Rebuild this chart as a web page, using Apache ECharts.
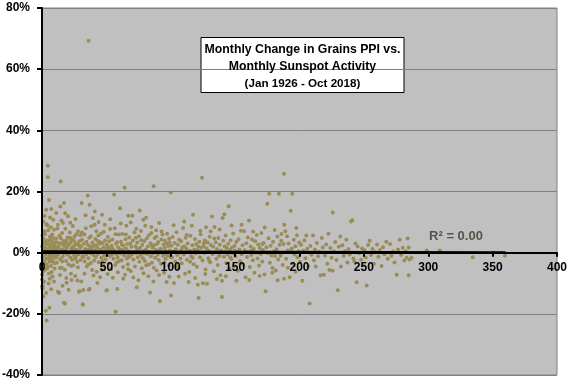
<!DOCTYPE html>
<html>
<head>
<meta charset="utf-8">
<script src="https://cdn.jsdelivr.net/npm/echarts@6/dist/echarts.min.js"></script>
<style>html,body{margin:0;padding:0;background:#fff;}#c{width:576px;height:384px;}</style>
</head>
<body>
<div id="c"></div>
<script>
// [monthly sunspot number, monthly change in grains PPI (%)]
const pointsLow0 = [[0.3,2.1],[0.5,-1.4],[0.8,10.2],[0.2,-7.2],[0.0,-8.8],[0.1,-11.0],[0.4,-11.8],[1.0,-14.3],[0.6,-11.0],[1.2,4.5],[1.5,0.8],[1.8,-2.6],[2.1,3.3],[2.4,6.1],[2.6,-0.5],[2.9,-19.0],[3.1,1.2],[3.3,14.0],[3.3,9.4],[3.4,-3.8],[3.6,-22.2],[3.8,2.7],[4.0,-5.1],[4.2,0.4],[4.5,28.4],[4.5,24.7],[4.7,-1.9],[4.9,7.3],[5.1,3.9],[5.4,17.2],[5.6,-0.9],[5.7,-18.0],[5.9,1.6],[6.0,-8.5],[6.2,5.2],[6.4,-2.2],[6.6,0.1],[6.8,8.3],[7.0,-4.4],[7.2,14.3],[7.3,2.5],[7.5,-6.3],[7.7,3.6],[7.9,-0.3],[8.1,1.9],[8.3,-2.9],[8.5,4.8],[8.7,10.8],[8.9,-1.1],[9.1,2.2],[9.3,-9.4],[9.3,7.5],[9.5,0.6],[9.7,-3.5],[9.9,3.1],[0.7,0.9],[1.3,-3.1],[1.6,2.8],[2.2,-0.8],[2.7,1.5],[3.0,-2.0],[3.9,4.0],[4.4,-4.6],[5.0,0.2],[5.3,-6.8],[6.1,2.4],[6.9,-1.5],[7.4,0.7],[8.0,5.9],[8.8,-0.6],[9.6,1.3],[0.9,3.7],[1.9,6.9],[2.5,-5.5],[3.5,1.0],[4.6,2.9],[5.8,-3.0],[6.7,4.3],[7.8,-2.4],[8.6,0.3],[9.8,-5.2],[1.1,-6.0],[2.0,12.0],[4.1,9.0],[6.3,11.5],[8.2,-7.8],[5.2,-10.1],[3.2,-13.2],[0.4,5.6],[1.7,-9.5],[7.1,-12.0]];
const pointsLow1 = [[10.2,2.0],[10.5,-1.7],[10.9,4.6],[11.2,0.5],[11.5,-3.3],[11.9,7.9],[12.2,1.4],[12.4,9.1],[12.4,-12.8],[12.7,-0.4],[13.0,3.2],[13.0,-13.0],[13.4,-13.2],[13.6,5.5],[13.9,-2.1],[14.2,15.1],[14.5,23.3],[14.8,0.8],[15.0,2.9],[15.3,-4.9],[15.6,6.4],[15.9,1.1],[16.1,-1.3],[16.3,9.7],[16.6,3.8],[16.9,-0.2],[17.1,16.2],[17.1,-16.4],[17.4,2.3],[17.7,-5.6],[17.9,-16.7],[18.1,7.8],[18.4,0.9],[18.7,-2.7],[19.0,4.1],[19.3,1.7],[19.6,-0.7],[19.9,5.0],[20.2,11.9],[20.5,-3.9],[20.7,-12.1],[21.0,2.6],[21.3,0.0],[21.6,6.6],[21.9,-1.6],[22.2,3.4],[22.5,-6.9],[22.8,1.3],[23.1,4.4],[23.4,-2.3],[23.7,0.6],[24.0,8.7],[24.3,-4.1],[24.6,2.1],[24.9,-0.9],[25.2,5.3],[25.5,1.0],[25.8,-7.6],[26.1,3.0],[26.4,-1.0],[26.7,6.0],[27.0,0.4],[27.3,-3.0],[27.6,2.7],[28.0,7.0],[28.3,-0.5],[28.7,-12.8],[29.0,3.7],[29.3,-12.6],[29.6,1.5],[29.9,-2.4],[10.7,3.5],[11.7,-0.9],[12.9,1.9],[13.8,-5.0],[14.6,4.7],[15.7,-2.8],[16.8,0.3],[17.8,3.1],[18.9,-8.3],[19.8,2.8],[20.9,-0.3],[21.8,4.9],[22.7,-4.4],[23.8,1.8],[24.8,3.9],[25.9,-1.9],[26.8,0.9],[27.9,-4.8],[28.8,2.4],[29.8,5.7],[11.0,13.0],[15.1,10.5],[19.1,-9.8],[23.0,-8.9],[26.0,11.0],[14.0,-7.3],[18.0,12.9],[22.0,9.8],[27.5,-9.1],[16.0,-10.8]];
const pointsLow2 = [[30.2,1.9],[30.5,-9.4],[30.8,16.2],[31.1,4.2],[31.4,-1.2],[31.6,-16.9],[31.8,-17.0],[32.1,-12.2],[32.3,2.8],[32.6,0.3],[32.9,5.9],[33.2,-2.9],[33.5,1.2],[33.9,12.2],[34.2,-0.6],[34.5,3.6],[34.8,-4.5],[35.1,0.9],[35.5,18.7],[35.7,2.5],[36.0,-1.8],[36.2,69.3],[36.3,-12.1],[36.6,4.9],[37.0,15.7],[37.0,-11.8],[37.3,-0.1],[37.6,2.0],[37.9,-3.4],[38.3,8.6],[38.6,1.4],[38.9,-5.7],[39.2,3.3],[39.6,11.3],[39.9,-0.8],[40.2,2.2],[40.5,-2.6],[40.9,9.1],[41.2,0.7],[41.5,4.5],[41.8,-1.4],[42.2,7.0],[42.5,-6.2],[42.8,1.6],[43.1,3.9],[43.5,-0.4],[43.8,5.6],[44.1,-3.1],[44.4,0.2],[44.8,2.9],[45.1,-8.0],[45.4,1.0],[45.8,6.3],[46.1,-1.7],[46.6,12.4],[46.9,0.5],[47.2,3.2],[47.6,-4.2],[47.9,1.8],[48.3,-0.9],[48.7,9.1],[49.0,4.0],[49.3,-2.2],[49.7,0.8],[50.0,-12.4],[50.3,2.6],[50.5,-12.3],[50.8,-0.2],[51.2,5.1],[51.5,1.3],[51.9,-3.6],[52.2,3.7],[52.6,-1.1],[52.9,7.7],[53.3,0.4],[53.6,-5.3],[54.0,2.3],[54.4,-0.7],[54.7,4.3],[55.1,1.1],[55.5,-2.0],[56.0,19.0],[56.2,0.6],[56.5,8.0],[56.9,-4.0],[57.2,-19.3],[57.5,2.9],[57.9,-0.5],[58.3,3.4],[58.5,-11.9],[58.8,-1.6],[59.2,1.7],[59.6,5.9],[59.9,-2.8],[31.0,6.6],[33.0,-6.9],[34.0,8.0],[35.9,-3.9],[38.0,5.4],[40.0,-7.5],[41.0,13.5],[43.0,-9.9],[44.0,10.0],[46.3,-5.6],[48.0,6.8],[51.0,-7.0],[53.0,10.9],[55.0,-8.2],[57.0,6.0],[59.0,-6.4],[32.0,-1.5],[36.8,1.1],[39.0,0.0],[42.0,2.5],[45.0,3.5],[47.0,-2.7],[50.9,2.0],[54.2,1.5],[58.0,-3.2]];
const pointsMid = [[60.2,1.2],[60.6,14.5],[61.0,-0.3],[61.4,3.6],[61.8,-2.5],[62.2,6.1],[62.6,0.9],[63.0,-4.7],[63.4,2.3],[63.8,-0.9],[64.2,21.2],[64.5,-7.2],[64.9,4.4],[65.3,1.4],[65.5,8.8],[65.9,-1.9],[66.3,2.8],[66.7,-3.8],[67.0,12.1],[67.4,0.5],[67.8,5.0],[68.2,-1.3],[68.6,3.0],[69.0,-6.0],[69.4,1.9],[69.8,-0.6],[70.2,12.1],[70.6,4.0],[71.0,-2.2],[71.4,0.2],[71.8,6.7],[72.2,-4.5],[72.6,2.1],[73.0,-0.1],[73.3,7.8],[73.6,-11.3],[74.0,3.3],[74.4,-1.5],[74.8,0.8],[75.2,5.4],[75.6,-3.0],[75.9,13.8],[76.3,1.6],[76.7,-0.8],[77.1,4.1],[77.5,-5.1],[77.9,2.6],[78.3,-1.8],[78.7,10.8],[79.1,0.6],[79.5,3.8],[79.9,-2.7],[80.2,8.8],[80.6,1.0],[81.0,-4.1],[81.4,4.7],[81.8,-0.4],[82.2,2.0],[82.6,-7.7],[83.0,5.7],[83.4,0.3],[83.9,-13.0],[84.2,3.1],[84.6,-1.2],[85.0,6.4],[85.4,-3.3],[85.8,1.7],[86.2,-0.2],[86.5,-9.4],[86.7,21.7],[87.1,2.4],[87.5,4.8],[87.9,-1.7],[88.3,0.9],[88.7,7.3],[89.1,-5.8],[89.5,2.9],[89.9,-0.7],[90.3,3.5],[90.7,-2.4],[91.0,9.7],[91.6,-15.9],[92.0,1.3],[92.4,-3.6],[92.8,4.3],[93.2,0.1],[93.6,5.9],[94.0,-1.0],[94.4,2.7],[94.8,-6.6],[95.2,1.5],[95.6,3.9],[96.0,-2.0],[96.4,0.4],[96.8,-9.6],[97.2,6.2],[97.6,-0.9],[98.0,2.2],[98.4,-4.3],[98.8,4.6],[99.2,0.7],[99.6,-1.4],[100.0,19.7],[100.2,-14.0],[61.2,9.5],[63.1,-8.5],[65.1,5.9],[66.9,-5.4],[68.9,9.9],[70.9,-8.1],[72.9,4.9],[74.9,-9.0],[76.9,7.1],[78.9,-6.7],[80.9,11.4],[82.9,-3.9],[84.9,8.4],[86.9,-4.9],[88.9,5.2],[90.9,-7.3],[92.9,6.9],[94.9,-3.2],[96.9,3.0],[98.9,-7.9],[62.0,2.7],[67.2,-1.0],[73.8,1.2],[79.3,-0.2],[85.2,2.5],[90.0,0.5],[95.9,-0.5],[99.0,3.4]];
const pointsHigh1 = [[100.6,2.3],[101.0,-1.6],[101.5,5.1],[102.0,0.4],[102.5,-9.9],[103.0,3.2],[103.5,-2.9],[104.0,1.1],[104.5,6.7],[105.0,-0.8],[105.5,2.6],[106.0,-5.0],[106.5,4.2],[107.0,0.0],[107.5,-1.9],[108.0,3.7],[108.5,-3.5],[109.0,1.8],[109.6,8.1],[110.1,-0.6],[110.6,2.0],[111.1,-6.9],[111.6,4.9],[112.1,1.3],[112.6,-2.3],[113.1,3.0],[113.9,-9.6],[114.4,-6.3],[114.8,0.6],[115.3,5.5],[115.8,-1.1],[116.3,8.8],[116.8,2.4],[117.3,12.4],[117.8,-3.8],[118.3,1.0],[118.8,4.5],[119.3,-0.3],[119.8,2.8],[120.3,-4.6],[120.8,0.8],[121.0,-10.5],[121.7,-14.8],[122.2,3.6],[122.7,-1.5],[123.2,6.0],[123.7,1.6],[124.3,24.5],[124.7,-2.6],[125.0,-10.0],[125.5,2.1],[126.0,-0.1],[126.5,4.0],[127.0,-5.5],[127.4,8.3],[127.9,1.4],[128.2,-10.2],[128.7,3.3],[129.2,-1.8],[129.7,0.5],[130.2,5.2],[130.7,-3.1],[131.2,2.5],[132.0,11.8],[132.5,-0.4],[133.0,1.9],[133.5,-6.1],[134.0,8.4],[134.5,0.2],[135.0,3.4],[135.5,-2.0],[136.0,1.2],[136.5,-4.0],[137.0,4.8],[137.6,-0.9],[138.1,2.6],[138.6,-7.4],[139.1,0.7],[139.8,-9.2],[139.8,-14.5],[140.3,11.3],[140.8,3.9],[141.3,-1.3],[141.6,12.6],[142.1,0.3],[142.6,5.6],[143.1,-3.4],[143.6,1.5],[144.1,-0.6],[144.6,2.9],[145.0,15.2],[145.5,-5.2],[146.0,0.9],[146.5,4.1],[147.0,-2.1],[147.5,1.7],[148.0,-0.2],[148.5,6.3],[149.0,-4.4],[149.5,2.2],[102.2,9.0],[106.2,-7.8],[110.4,10.2],[115.0,-3.0],[119.0,-8.3],[123.0,7.2],[126.8,-7.0],[131.0,6.9],[135.8,-8.6],[138.0,7.6],[142.8,-7.7],[147.2,8.9],[104.2,-4.3],[108.2,0.9],[112.4,5.8],[117.0,-1.7],[121.4,1.9],[125.8,3.1],[129.9,-2.7],[133.8,4.6],[137.9,-1.0],[141.9,2.0],[146.2,-1.6],[149.8,0.6]];
const pointsHigh2 = [[150.3,-1.2],[150.9,3.5],[151.5,0.1],[152.1,-5.9],[152.7,4.4],[153.3,1.0],[153.9,-2.7],[154.5,7.2],[155.1,-0.5],[155.7,2.4],[156.3,-3.9],[157.0,7.0],[157.5,0.8],[158.1,-8.0],[158.7,3.1],[159.3,-1.4],[159.9,5.0],[160.5,0.3],[160.8,10.5],[161.4,-4.7],[162.0,2.0],[162.6,-0.8],[163.2,4.3],[163.8,-2.5],[164.4,1.2],[165.0,-6.6],[165.6,3.7],[166.2,0.0],[166.8,5.8],[167.4,-1.9],[168.0,2.7],[168.6,-4.2],[169.2,1.5],[169.8,-0.4],[170.4,6.4],[171.0,-2.9],[171.6,0.9],[172.2,3.2],[172.8,-7.1],[173.7,-12.6],[174.3,1.8],[175.0,16.0],[175.3,-0.2],[176.0,4.7],[176.5,19.3],[177.0,-3.3],[177.6,2.3],[178.2,-0.9],[178.9,-6.6],[179.5,3.6],[180.1,0.4],[180.7,7.4],[181.5,-5.8],[182.1,1.1],[182.8,5.3],[183.4,-2.2],[184.0,19.3],[184.6,2.6],[185.2,-1.0],[185.8,3.9],[186.4,0.0],[187.0,-4.0],[187.6,2.8],[188.0,25.8],[188.0,-8.5],[188.2,9.1],[189.0,7.0],[189.6,-2.0],[190.3,5.4],[190.9,0.7],[191.5,3.0],[192.4,-8.0],[193.2,13.7],[194.0,1.4],[194.4,19.3],[195.0,-3.6],[195.6,4.2],[196.2,-0.6],[196.8,2.1],[197.5,8.1],[198.0,5.7],[198.6,-1.5],[199.2,0.5],[199.8,3.3],[151.0,-9.2],[155.0,9.1],[161.0,-8.9],[164.0,6.9],[169.0,-7.6],[173.0,8.2],[179.0,-5.0],[183.0,-9.0],[186.0,6.1],[191.0,-4.9],[197.0,-6.2],[154.0,-3.4],[162.8,0.6],[171.2,2.8],[181.0,-1.1],[193.8,0.2]];
const pointsHigh3 = [[200.4,-3.0],[201.2,2.6],[202.2,-9.2],[203.0,0.6],[203.8,4.0],[204.6,-1.8],[205.3,5.6],[206.0,1.3],[206.8,-4.4],[207.9,-16.6],[208.5,2.2],[209.3,-0.7],[210.5,5.6],[211.2,-2.5],[212.0,1.0],[212.6,-4.5],[213.5,3.2],[214.4,-1.2],[215.3,0.3],[216.4,-7.4],[217.3,4.8],[218.0,1.7],[219.0,-7.2],[219.8,-0.9],[220.7,2.7],[221.6,-3.6],[222.5,6.2],[223.2,-5.7],[224.0,1.5],[224.9,-1.7],[225.8,13.1],[225.8,-5.9],[226.8,0.4],[227.8,3.5],[228.7,-2.4],[229.7,-12.3],[230.5,1.9],[231.7,5.3],[232.2,-4.5],[233.3,2.4],[234.3,-1.0],[235.3,0.5],[236.4,4.2],[237.2,-3.2],[238.1,1.2],[239.0,-0.6],[240.0,10.2],[241.0,10.6],[241.9,-1.9],[242.6,-2.8],[243.5,3.0],[244.4,-9.7],[245.2,2.0],[246.2,-0.2],[247.8,-2.3],[248.6,1.4],[249.5,-4.0]];
const pointsTop = [[250.5,0.8],[251.4,-1.6],[252.2,-10.7],[253.3,2.5],[254.5,3.9],[255.6,-0.8],[256.7,1.2],[257.8,-3.6],[259.0,0.2],[260.2,2.7],[261.3,-1.3],[262.5,0.9],[263.7,-4.4],[264.8,1.8],[266.0,-0.5],[267.4,3.6],[268.5,-2.0],[270.3,2.8],[271.4,-1.0],[272.6,0.4],[273.8,-3.2],[275.5,-7.2],[276.5,1.0],[277.8,4.2],[279.0,-0.8],[280.2,1.6],[281.4,-2.6],[282.5,0.5],[283.2,-1.7],[284.0,4.6],[284.8,-7.4],[284.8,1.7],[285.5,-2.2],[287.0,-1.7],[298.8,0.7],[308.6,0.2],[309.0,0.7],[334.5,-1.5],[350.5,0.0],[359.6,-1.0]];
const trendLine = [[0,0.5],[360,0.1]];
const xTicks = [0,50,100,150,200,250,300,350,400];
const yTicks = [-40,-20,0,20,40,60,80];
const titleLines = ['Monthly Change in Grains PPI vs.','Monthly Sunspot Activity','(Jan 1926 - Oct 2018)'];
const r2Label = 'R² = 0.00';

const allPoints = [].concat(pointsLow0, pointsLow1, pointsLow2, pointsMid, pointsHigh1, pointsHigh2, pointsHigh3, pointsTop);

const fam = "'Liberation Sans Narrow', 'Liberation Sans', Arial, sans-serif";
const cv = document.createElement('canvas').getContext('2d');
function fitSize(text, target, base) {
  cv.font = 'bold ' + base + 'px ' + fam;
  const w = cv.measureText(text).width;
  return Math.max(8, Math.min(base * target / w, 16));
}
const s1 = fitSize(titleLines[0], 196, 15);
const s2 = Math.min(s1, fitSize(titleLines[1], 160, 15));
const s3 = fitSize(titleLines[2], 116, 12);

// layout of the plot area
const W = 576, H = 384;
const gLeft = 42, gRight = 19, gTop = 8, gBottom = 9;
const yMin = yTicks[0], yMax = yTicks[yTicks.length - 1];
const plotH = H - gTop - gBottom;
// x axis drawn at value 0 of the y axis
const zeroFromBottom = plotH * (0 - yMin) / (yMax - yMin);

const chart = echarts.init(document.getElementById('c'), null, {renderer: 'canvas'});
const boxX = 201, boxY = 37.5, boxW = 203, boxH = 55;
chart.setOption({
  animation: false,
  grid: {left: gLeft, right: gRight, top: gTop, bottom: gBottom, outerBoundsMode: 'none', containLabel: false, show: true, backgroundColor: '#c0c0c0', borderColor: '#808080', borderWidth: 1},
  xAxis: {
    type: 'value', min: xTicks[0], max: xTicks[xTicks.length - 1], interval: 50,
    position: 'bottom', offset: -zeroFromBottom, z: 10,
    axisLine: {onZero: false, lineStyle: {color: '#000', width: 2}},
    axisTick: {show: true, length: 4, lineStyle: {color: '#000', width: 2}},
    axisLabel: {color: '#000', fontSize: 12, fontWeight: 'bold', fontFamily: 'Liberation Sans, Arial, sans-serif', margin: 9},
    splitLine: {show: false}
  },
  yAxis: {
    type: 'value', min: yMin, max: yMax, interval: 20, z: 10,
    axisLine: {show: true, onZero: false, lineStyle: {color: '#000', width: 2}},
    axisTick: {show: true, length: 5, lineStyle: {color: '#000', width: 2}},
    axisLabel: {color: '#000', fontSize: 12, fontWeight: 'bold', fontFamily: 'Liberation Sans, Arial, sans-serif', margin: 12, formatter: '{value}%'},
    splitLine: {show: true, lineStyle: {color: '#808080', width: 1}}
  },
  series: [
    {type: 'scatter', data: allPoints, symbol: 'circle', symbolSize: 4, itemStyle: {color: '#9b8c57', opacity: 1}, z: 2},
    {type: 'line', data: trendLine, symbol: 'none', lineStyle: {color: '#000', width: 2}, z: 3}
  ],
  graphic: [
    {type: 'rect', shape: {x: boxX, y: boxY, width: boxW, height: boxH}, style: {fill: '#fff', stroke: '#000', lineWidth: 1}, z: 10},
    {type: 'text', x: boxX + boxW / 2, y: 50, style: {text: titleLines[0], font: 'bold ' + s1 + 'px ' + fam, fill: '#000', align: 'center', verticalAlign: 'middle'}, z: 11},
    {type: 'text', x: boxX + boxW / 2, y: 67, style: {text: titleLines[1], font: 'bold ' + s2 + 'px ' + fam, fill: '#000', align: 'center', verticalAlign: 'middle'}, z: 11},
    {type: 'text', x: boxX + boxW / 2, y: 83.5, style: {text: titleLines[2], font: 'bold ' + s3 + 'px ' + fam, fill: '#000', align: 'center', verticalAlign: 'middle'}, z: 11},
    {type: 'text', x: 456, y: 236, style: {text: r2Label, font: 'bold 13px Liberation Sans, Arial, sans-serif', fill: '#57534a', align: 'center', verticalAlign: 'middle'}, z: 11}
  ]
});
</script>
</body>
</html>
